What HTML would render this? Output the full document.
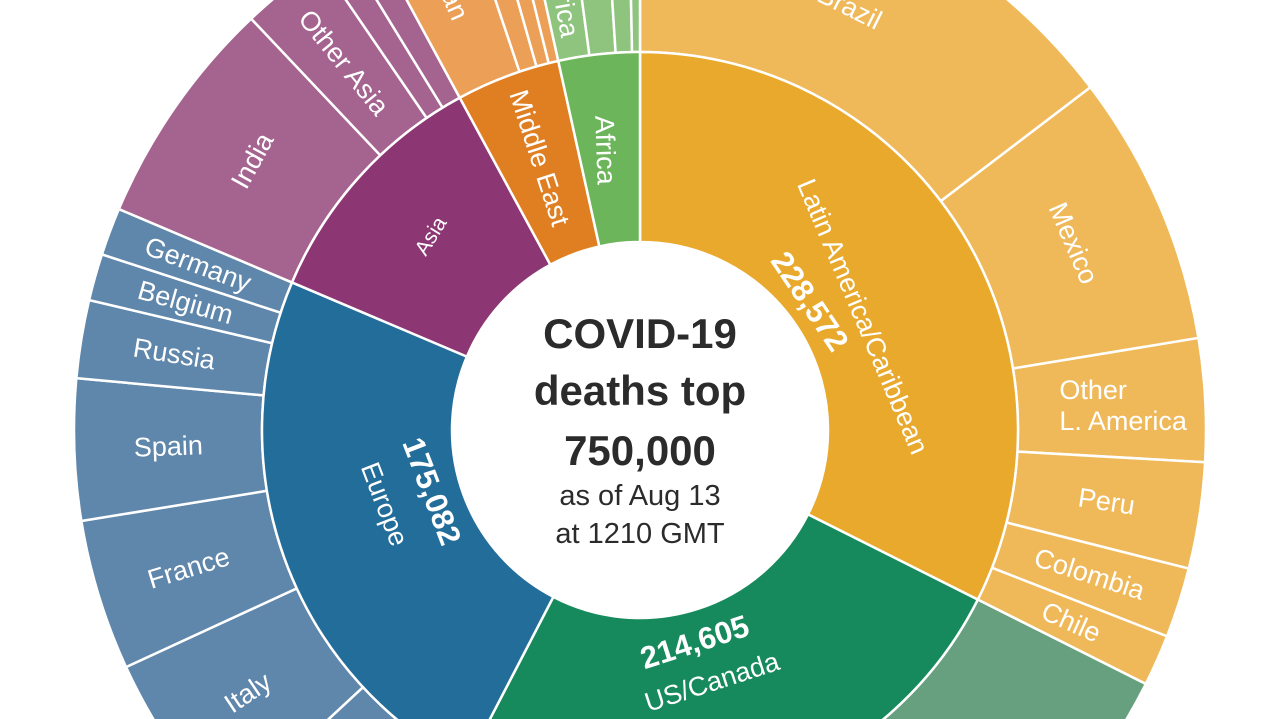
<!DOCTYPE html>
<html><head><meta charset="utf-8"><style>
html,body{margin:0;padding:0;background:#fff;width:1280px;height:719px;overflow:hidden}
svg{display:block;font-family:"Liberation Sans",sans-serif}
</style></head><body>
<svg id="chart" width="1280" height="719" viewBox="0 0 1280 719">
<g id="slices"></g><g id="labels"></g>
<circle cx="640" cy="430" r="188" fill="#fff"/>
<g fill="#2b2b2b" text-anchor="middle">
<text x="640" y="348" font-size="42" font-weight="bold">COVID-19</text>
<text x="640" y="405" font-size="42" font-weight="bold">deaths top</text>
<text x="640" y="465" font-size="42" font-weight="bold">750,000</text>
<text x="640" y="505" font-size="29">as of Aug 13</text>
<text x="640" y="543" font-size="29">at 1210 GMT</text>
</g>
</svg>
<script>
// Regions (inner ring), clockwise from 12 o'clock
const regions = ["Latin America/Caribbean","US/Canada","Europe","Asia","Middle East","Africa"];
const regionLabels = ["228,572","214,605","175,082","","",""];
// Countries (outer ring) per region, values in deaths
const laNames = ["Brazil","Mexico","Other L. America","Peru","Colombia","Chile"];
const laValues = [109800,58100,26300,22700,15000,11000];
const usNames = ["US","Canada"];
const usValues = [182000,7000];
const euNames = ["UK","Italy","France","Spain","Russia","Belgium","Germany"];
const euValues = [41000,37700,32300,30200,16700,10000,10200];
const asNames = ["India","Other Asia","",""];
const asValues = [49200,18800,6000,6250];
const meNames = ["Iran","","",""];
const meValues = [20600,5600,4000,3100];
const afNames = ["South Africa","","",""];
const afValues = [10000,8300,5200,2500];

const childNames = [laNames,usNames,euNames,asNames,meNames,afNames];
const childValues = [laValues,usValues,euValues,asValues,meValues,afValues];
const innerColors = ["#e9a92c","#168a5c","#236d9a","#8c3773","#e07f22","#6cb55a"];
const outerColors = ["#efb95a","#66a07f","#5f86ab","#a5638f","#eb9f57","#8fc47e"];

const CX=640, CY=430, R0=188, R1=378, R2=566;
const NS="http://www.w3.org/2000/svg";
const total = childValues.flat().reduce((a,b)=>a+b,0);
const ang = v => v/total*360;
function pt(a,r){const t=a*Math.PI/180;return [CX+r*Math.sin(t),CY-r*Math.cos(t)];}
function arc(a0,a1,ri,ro){
  const [x0,y0]=pt(a0,ro),[x1,y1]=pt(a1,ro),[x2,y2]=pt(a1,ri),[x3,y3]=pt(a0,ri);
  const lg=(a1-a0)>180?1:0;
  return `M${x0},${y0}A${ro},${ro} 0 ${lg} 1 ${x1},${y1}L${x2},${y2}A${ri},${ri} 0 ${lg} 0 ${x3},${y3}Z`;
}
const slicesG=document.getElementById('slices'), labelsG=document.getElementById('labels');
function label(txt,a,r,rot,size,bold,name){
  const [x,y]=pt(a,r);
  const t=document.createElementNS(NS,'text');
  t.setAttribute('x',x);t.setAttribute('y',y);
  t.setAttribute('transform',`rotate(${rot} ${x} ${y})`);
  t.setAttribute('text-anchor','middle');t.setAttribute('dominant-baseline','central');
  t.setAttribute('fill','#fff');t.setAttribute('font-size',size);
  if(bold)t.setAttribute('font-weight','bold');
  t.textContent=txt;
  
  
  labelsG.appendChild(t);return t;
}
const outerModes={"Brazil":"tan","Mexico":"tan","Other L. America":"h","Peru":"rad","Colombia":"rad","Chile":"rad",
 "Germany":"rad","Belgium":"rad","Russia":"rad","Spain":"rad","France":"rad","Italy":"rad","UK":"rad",
 "India":"tan","Other Asia":"rad","Iran":"rad","South Africa":"rad","US":"tan","Canada":"rad"};
let a=0;
regions.forEach((reg,i)=>{
  const vals=childValues[i], names=childNames[i];
  const start=a;
  vals.forEach((v,j)=>{
    const a0=a,a1=a+ang(v);
    const p=document.createElementNS(NS,'path');
    p.setAttribute('d',arc(a0,a1,R1,R2));
    p.setAttribute('fill',outerColors[i]);p.setAttribute('stroke','#fff');p.setAttribute('stroke-width','2.5');
    
    
    slicesG.appendChild(p);
    const nm=names[j];
    if(nm){
      const m=(a0+a1)/2, mode=outerModes[nm]||"rad";
      let rot = mode==="tan" ? (m>180?m-360:m) : mode==="rad" ? (m>180?m-270:m-90) : 0;
      if(nm==="India") rot-=6;
      if(mode==="h"){
        const [x,y]=pt(m,486);
        const t=document.createElementNS(NS,'text');
        t.setAttribute('x',x-66);t.setAttribute('y',y-15);t.setAttribute('fill','#fff');t.setAttribute('font-size','27');
        t.innerHTML='<tspan x="'+(x-66)+'" dy="10">Other</tspan><tspan x="'+(x-66)+'" dy="31">L. America</tspan>';
        
        
        labelsG.appendChild(t);
      } else label(nm,m,472,rot,27,false,'label-'+nm.toLowerCase().replace(/[^a-z0-9]+/g,'-'));
    }
    a=a1;
  });
  const end=a;
  const p=document.createElementNS(NS,'path');
  p.setAttribute('d',arc(start,end,R0,R1));
  p.setAttribute('fill',innerColors[i]);p.setAttribute('stroke','#fff');p.setAttribute('stroke-width','2.5');
  
  
  slicesG.appendChild(p);
  const m=(start+end)/2;
  const slug=reg.toLowerCase().replace(/[^a-z0-9]+/g,'-');
  if(i===0){ label(reg,m+4.7,250,67,27,false,'region-label-'+slug); label(regionLabels[i],m-5.5,213,56,31,true,'region-value-'+slug); }
  if(i===1){ label(regionLabels[i],m+3.5,219,m-180,31,true,'region-value-'+slug); label(reg,m+2,262,m-180,27,false,'region-label-'+slug); }
  if(i===2){ label(regionLabels[i],m+3.4,217,69,31,true,'region-value-'+slug); label(reg,m+3.6,266,69,27,false,'region-label-'+slug); }
  if(i===3){ label(reg,m+0.6,285,-58,21,false,'region-label-'+slug); }
  if(i===4){ label(reg,m+0.2,290,72,27,false,'region-label-'+slug); }
  if(i===5){ label(reg,m-0.8,282,88,27,false,'region-label-'+slug); }
});
</script>
</body></html>
